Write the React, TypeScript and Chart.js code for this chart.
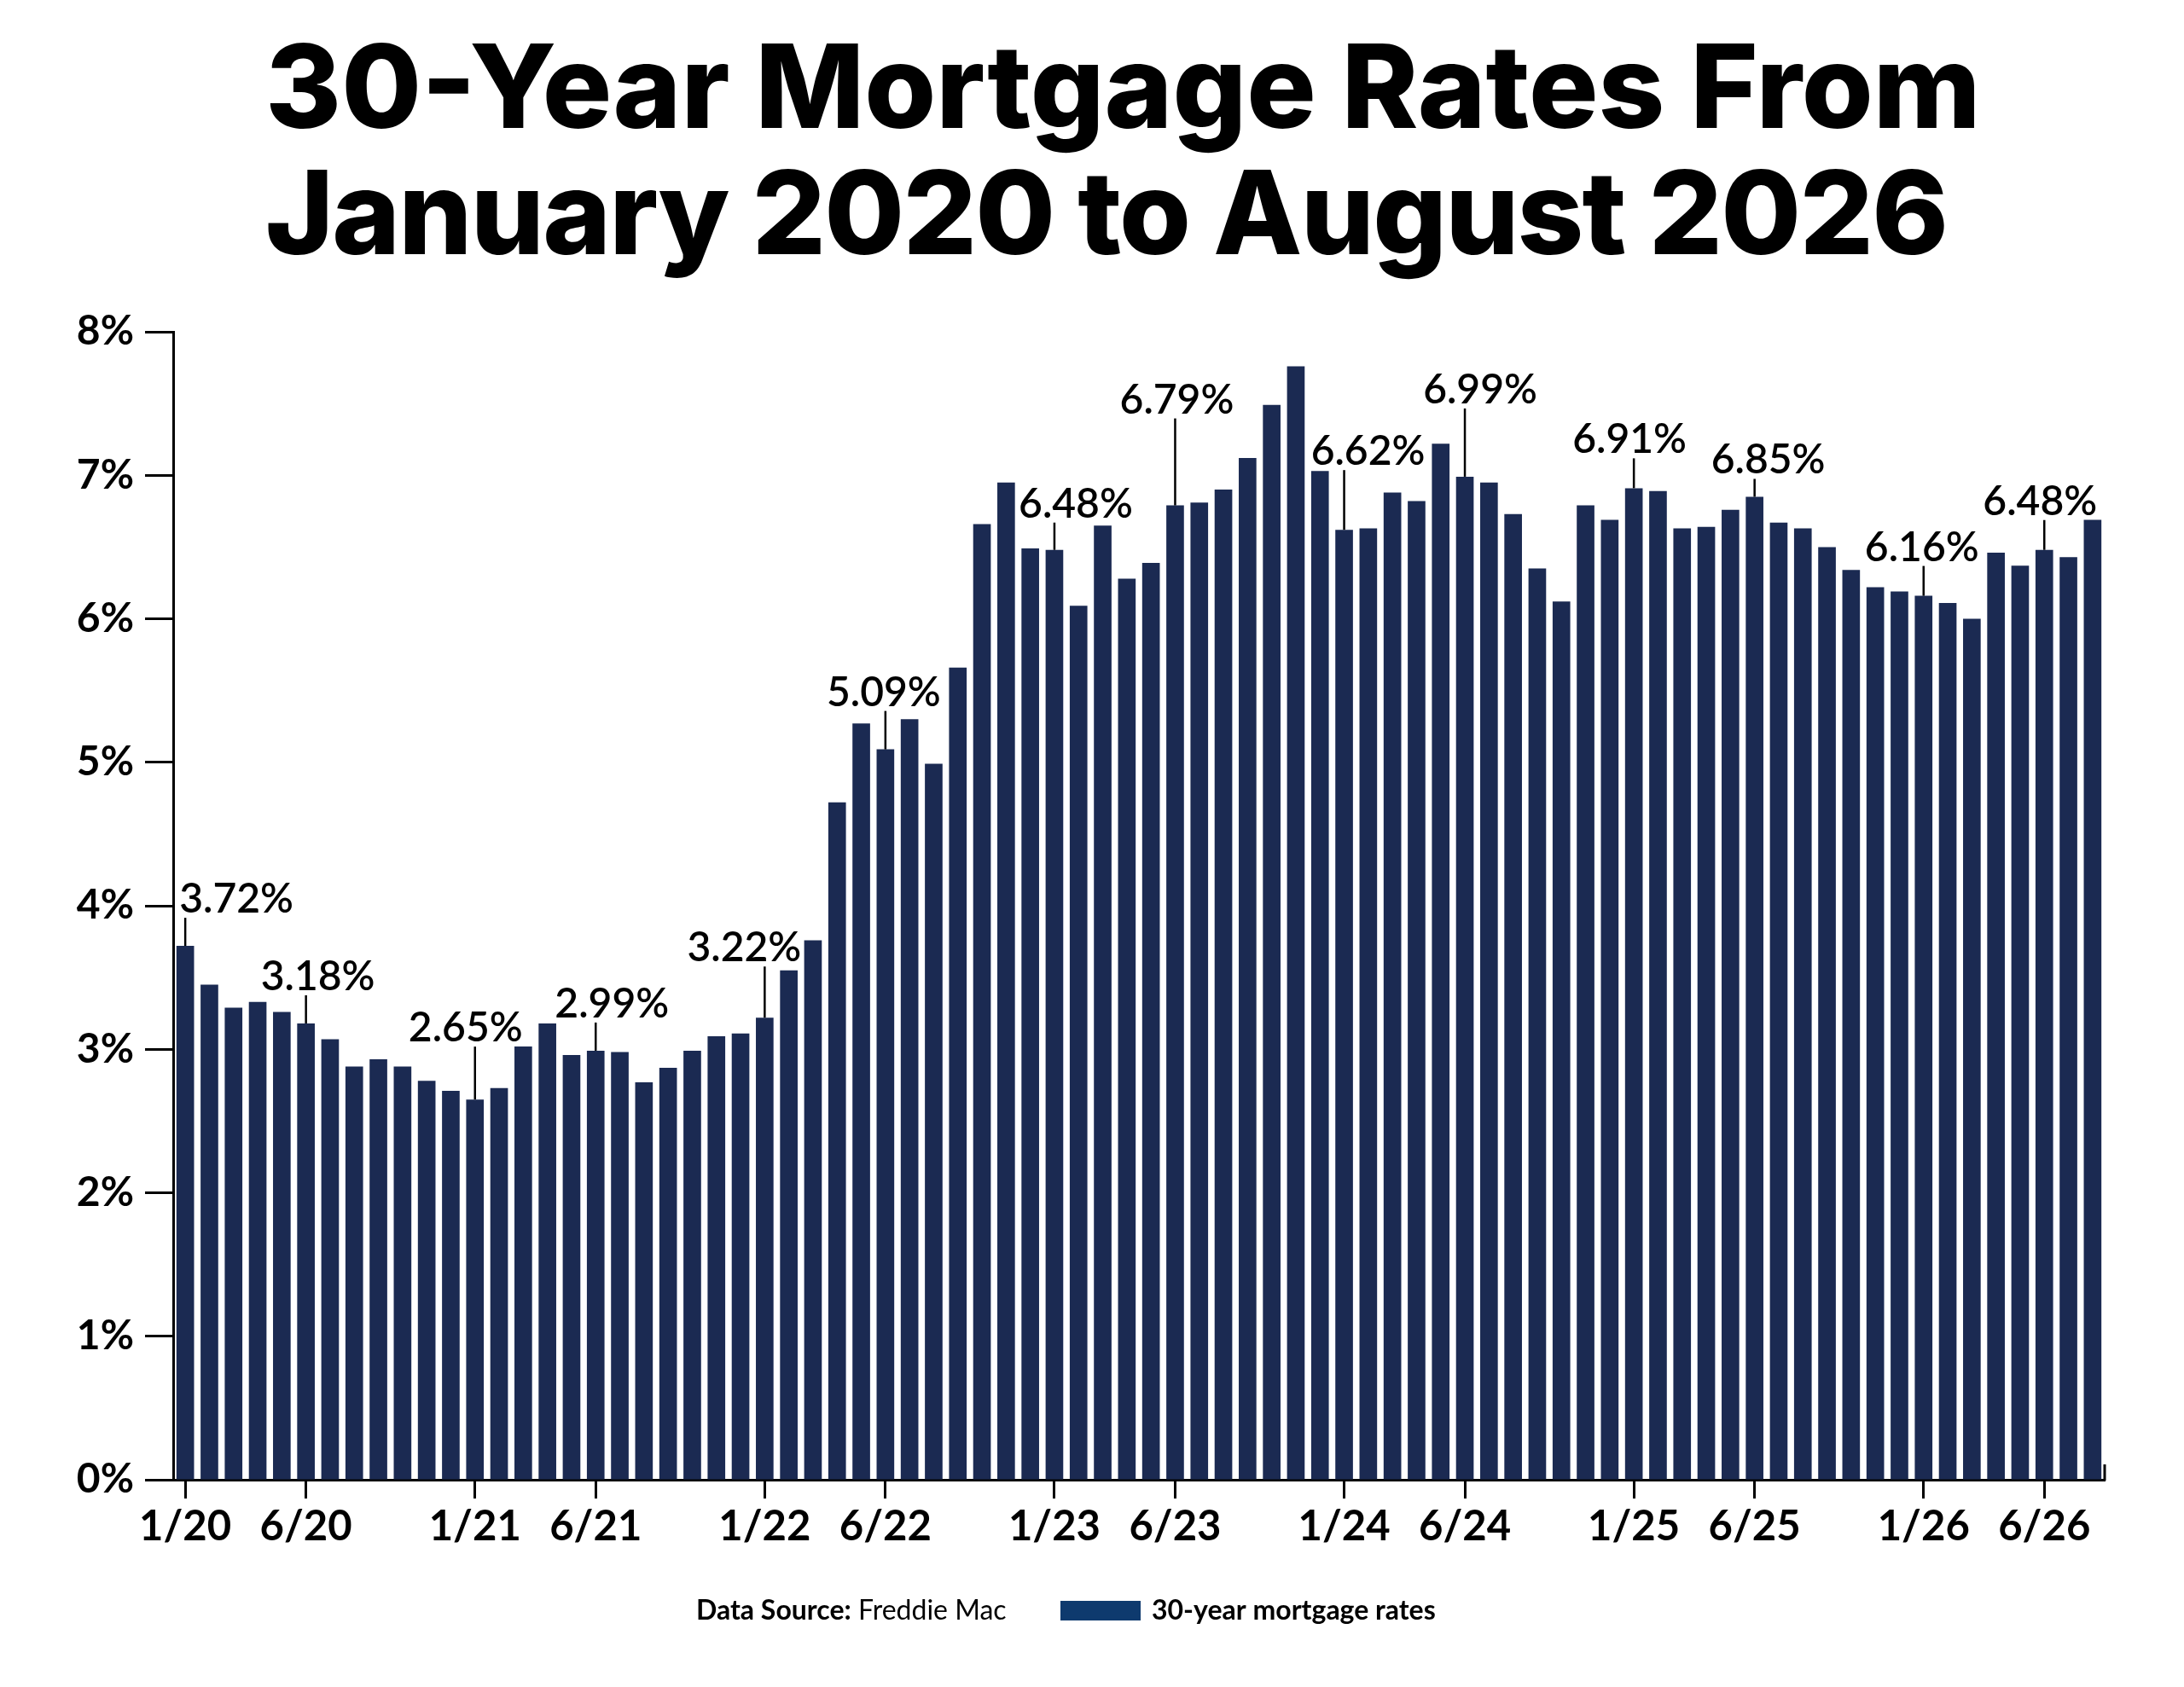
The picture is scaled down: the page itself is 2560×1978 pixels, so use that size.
import React, { useEffect, useRef } from 'react';
import { Chart, registerables } from 'chart.js';

Chart.register(...registerables);

// monthly categories, Jan 2020 .. Aug 2026
const yearSuffixes = ['20', '21', '22', '23', '24', '25', '26'];
const allMonths: string[] = [];
yearSuffixes.forEach((yy) => {
  for (let m = 1; m <= 12; m++) allMonths.push(`${m}/${yy}`);
});
const categories = allMonths.slice(0, 80);

// 30-year fixed rate, %
const rates = [
  3.72, 3.45, 3.29, 3.33, 3.26, 3.18, 3.07, 2.88, 2.93, 2.88, 2.78, 2.71,
  2.65, 2.73, 3.02, 3.18, 2.96, 2.99, 2.98, 2.77, 2.87, 2.99, 3.09, 3.11,
  3.22, 3.55, 3.76, 4.72, 5.27, 5.09, 5.3, 4.99, 5.66, 6.66, 6.95, 6.49,
  6.48, 6.09, 6.65, 6.28, 6.39, 6.79, 6.81, 6.9, 7.12, 7.49, 7.76, 7.03,
  6.62, 6.63, 6.88, 6.82, 7.22, 6.99, 6.95, 6.73, 6.35, 6.12, 6.79, 6.69,
  6.91, 6.89, 6.63, 6.64, 6.76, 6.85, 6.67, 6.63, 6.5, 6.34, 6.22, 6.19,
  6.16, 6.11, 6.0, 6.46, 6.37, 6.48, 6.43, 6.69,
];

const shownTicks = [
  '1/20', '6/20', '1/21', '6/21', '1/22', '6/22', '1/23',
  '6/23', '1/24', '6/24', '1/25', '6/25', '1/26', '6/26',
];

// months that get a value callout
const calloutMonths = shownTicks;
// callout styling: leader length and label shift, px
const calloutLift = [33, 33, 62, 33, 60, 45, 32, 102, 70, 80, 35, 21, 35, 35];
const calloutShift = [60, 14, -11, 19, -24, -2, 25, 2, 28, 18, -5, 16, -2, -5];

const TITLE_LINES = ['30-Year Mortgage Rates From', 'January 2020 to August 2026'];
const TITLE_WIDTHS = [2011, 1973];
const BAR_COLOR = '#1b2a52';
const SWATCH_COLOR = '#0e3a6e';

const decorPlugin = {
  id: 'decor',
  afterDraw(chart: any) {
    const ctx = chart.ctx as CanvasRenderingContext2D;
    const { chartArea } = chart;
    ctx.save();

    // title: size fitted on line 1, tracking fitted on line 2
    ctx.fillStyle = '#000';
    ctx.textAlign = 'left';
    ctx.textBaseline = 'alphabetic';
    ctx.font = '800 100px Inter';
    const w1 = ctx.measureText(TITLE_LINES[0]).width;
    const size = (100 * TITLE_WIDTHS[0]) / w1;
    ctx.font = `800 ${size}px Inter`;
    ctx.fillText(TITLE_LINES[0], 311, 150);
    const w2 = ctx.measureText(TITLE_LINES[1]).width;
    const track = (TITLE_WIDTHS[1] - w2) / (TITLE_LINES[1].length - 1);
    (ctx as any).letterSpacing = `${track}px`;
    ctx.fillText(TITLE_LINES[1], 311, 298);
    (ctx as any).letterSpacing = '0px';

    // callouts
    const meta = chart.getDatasetMeta(0);
    ctx.strokeStyle = '#000';
    ctx.lineWidth = 2.5;
    ctx.font = '600 48px Lato';
    ctx.textAlign = 'center';
    calloutMonths.forEach((m, k) => {
      const i = categories.indexOf(m);
      const bar = meta.data[i];
      if (!bar) return;
      const lift = calloutLift[k];
      ctx.beginPath();
      ctx.moveTo(bar.x, bar.y);
      ctx.lineTo(bar.x, bar.y - lift);
      ctx.stroke();
      ctx.fillText(`${rates[i].toFixed(2)}%`, bar.x + calloutShift[k], bar.y - lift - 6);
    });

    // small upturn at the end of the x axis
    ctx.lineWidth = 3;
    ctx.beginPath();
    ctx.moveTo(chartArea.right, chartArea.bottom + 1);
    ctx.lineTo(chartArea.right, chartArea.bottom - 18);
    ctx.stroke();

    // source + legend
    ctx.textAlign = 'left';
    ctx.font = 'bold 32px Lato';
    ctx.fillText('Data Source:', 816, 1899);
    const dw = ctx.measureText('Data Source:').width;
    ctx.font = '32px Lato';
    ctx.fillText(' Freddie Mac', 816 + dw, 1899);
    ctx.fillStyle = SWATCH_COLOR;
    ctx.fillRect(1243, 1877, 94, 23);
    ctx.fillStyle = '#000';
    ctx.font = 'bold 32px Lato';
    ctx.fillText('30-year mortgage rates', 1350, 1899);

    ctx.restore();
  },
};

const MortgageChart: React.FC = () => {
  const canvasRef = useRef<HTMLCanvasElement>(null);
  const chartRef = useRef<Chart | null>(null);

  useEffect(() => {
    if (!canvasRef.current) return;
    document.body.style.overflow = 'hidden';
    if (chartRef.current) chartRef.current.destroy();

    chartRef.current = new Chart(canvasRef.current, {
      type: 'bar',
      data: {
        labels: categories,
        datasets: [
          {
            label: '30-year mortgage rates',
            data: rates,
            backgroundColor: BAR_COLOR,
            borderWidth: 0,
            barPercentage: 0.73,
            categoryPercentage: 1,
          },
        ],
      },
      options: {
        animation: false,
        responsive: true,
        maintainAspectRatio: false,
        devicePixelRatio: 1,
        layout: { padding: { left: 0, top: 389, right: 93, bottom: 143 } },
        plugins: {
          legend: { display: false },
          tooltip: { enabled: false },
          title: { display: false },
        },
        scales: {
          x: {
            offset: true,
            grid: {
              offset: false,
              drawOnChartArea: false,
              tickLength: 22,
              tickWidth: 3,
              tickColor: (c: any) =>
                shownTicks.includes(categories[c.index]) ? '#000' : 'rgba(0,0,0,0)',
            },
            border: { display: true, color: '#000', width: 3 },
            ticks: {
              autoSkip: false,
              maxRotation: 0,
              padding: 4,
              color: '#000',
              font: { family: 'Lato', weight: 'bold', size: 49 },
              callback: (_v: any, i: number) =>
                shownTicks.includes(categories[i]) ? categories[i] : '',
            },
            afterFit: (scale: any) => {
              scale.height = 100;
            },
          },
          y: {
            min: 0,
            max: 8,
            grid: {
              drawOnChartArea: false,
              tickLength: 33,
              tickWidth: 3,
              tickColor: '#000',
              color: '#000',
            },
            border: { display: true, color: '#000', width: 3 },
            ticks: {
              stepSize: 1,
              padding: 13,
              color: '#000',
              font: { family: 'Lato', weight: 'bold', size: 48 },
              callback: (v: any) => `${v}%`,
            },
            afterFit: (scale: any) => {
              scale.width = 203;
            },
          },
        },
      },
      plugins: [decorPlugin],
    });

    return () => {
      if (chartRef.current) {
        chartRef.current.destroy();
        chartRef.current = null;
      }
    };
  }, []);

  return (
    <div
      style={{
        position: 'absolute',
        left: 0,
        top: 0,
        width: '2560px',
        height: '1978px',
        background: '#fff',
      }}
    >
      <canvas ref={canvasRef}></canvas>
    </div>
  );
};

export default function App() {
  return <MortgageChart />;
}
